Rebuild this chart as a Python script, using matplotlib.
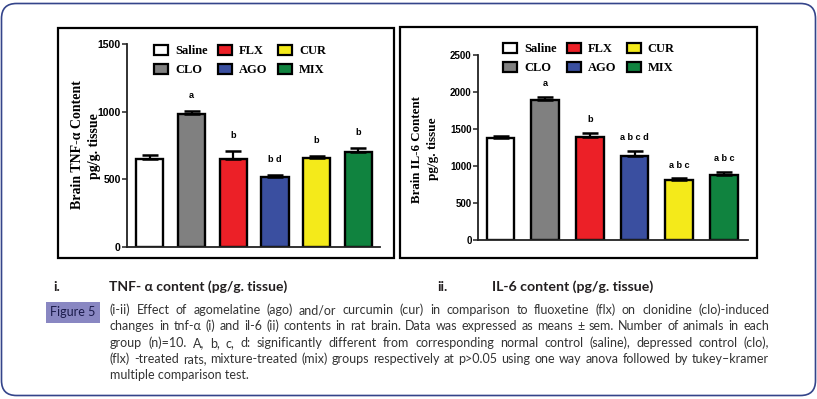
import matplotlib
matplotlib.use('Agg')
import matplotlib.pyplot as plt
from matplotlib.patches import Patch, Rectangle, FancyBboxPatch
import numpy as np

# ---------------- data ----------------
groups = ['Saline', 'CLO', 'FLX', 'AGO', 'CUR', 'MIX']
colors = ['#ffffff', '#808080', '#ec2027', '#3a4fa0', '#f4ea1a', '#10833f']

tnf_mean = [648, 983, 648, 518, 655, 705]
tnf_sem = [32, 22, 61, 14, 20, 26]
tnf_sig = ['', 'a', 'b', 'b d', 'b', 'b']
tnf_ticks = [0, 500, 1000, 1500]

il6_mean = [1374, 1892, 1388, 1135, 811, 883]
il6_sem = [27, 45, 63, 68, 22, 41]
il6_sig = ['', 'a', 'b', 'a b c d', 'a b c', 'a b c']
il6_ticks = [0, 500, 1000, 1500, 2000, 2500]

caption_lines = [
    "(i-ii) Effect of agomelatine (ago) and/or curcumin (cur) in comparison to fluoxetine (flx) on clonidine (clo)-induced",
    "changes in tnf-\u03b1 (i) and il-6 (ii) contents in rat brain. Data was expressed as means \u00b1 sem. Number of animals in each",
    "group (n)=10. A, b, c, d: significantly different from corresponding normal control (saline), depressed control (clo),",
    "(flx) -treated rats, mixture-treated (mix) groups respectively at p>0.05 using one way anova followed by tukey\u2013kramer",
    "multiple comparison test.",
]

W, H = 817, 399
fig = plt.figure(figsize=(W / 100, H / 100), dpi=100)
fig.patch.set_facecolor('white')

# overlay axes in pixel coordinates (origin top-left)
ov = fig.add_axes([0, 0, 1, 1], zorder=0)
ov.set_xlim(0, W)
ov.set_ylim(H, 0)
ov.axis('off')


def px_axes(x0, y0, x1, y1):
    return fig.add_axes([x0 / W, 1 - y1 / H, (x1 - x0) / W, (y1 - y0) / H], zorder=2)


SERIF = ['Liberation Serif', 'DejaVu Serif']
NARROW = ['Liberation Sans Narrow', 'Liberation Sans', 'DejaVu Sans']
SANS = ['Liberation Sans', 'DejaVu Sans']
CAL = ['Lato', 'DejaVu Sans']


def panel(box, means, sems, sig, ticks, width, xlim, leg_anchor, sig_off, tick_fs):
    ax = px_axes(*box)
    ax.set_facecolor('none')
    x = np.arange(len(groups))
    ax.bar(x, means, width=width, color=colors, edgecolor='black', linewidth=1.7, zorder=2)
    ax.errorbar(x, means, yerr=[np.zeros(len(x)), sems], fmt='none', ecolor='black',
                elinewidth=1.6, capsize=5.5, capthick=1.8, zorder=3)
    for xi, m, e, s in zip(x, means, sems, sig):
        if s:
            ax.annotate(s, (xi, m + e), xytext=(0, sig_off), textcoords='offset points',
                        ha='center', va='center', fontsize=6.6, fontweight='bold',
                        family=SANS, color='black')
    ax.set_xlim(*xlim)
    ax.set_ylim(0, ticks[-1])
    ax.set_xticks([])
    ax.set_yticks(ticks)
    ax.set_yticklabels([str(t) for t in ticks])
    for lbl in ax.get_yticklabels():
        lbl.set_fontweight('bold')
        lbl.set_family(NARROW)
        lbl.set_fontsize(tick_fs)
    ax.tick_params(axis='y', length=3.5, width=1.1, pad=1, color='#222222')
    for sp in ['top', 'right']:
        ax.spines[sp].set_visible(False)
    for sp in ['left', 'bottom']:
        ax.spines[sp].set_linewidth(1.3)
        ax.spines[sp].set_color('#222222')
    ax.spines['left'].set_bounds(0, ticks[-1])
    handles = [Patch(facecolor=c, edgecolor='black', linewidth=1.6, label=g)
               for g, c in zip(groups, colors)]
    ax.legend(handles=handles, ncol=3, loc='upper left', bbox_to_anchor=leg_anchor,
              bbox_transform=ov.transData, frameon=False, borderpad=0, borderaxespad=0,
              handlelength=1.15, handleheight=0.85, handletextpad=0.55,
              columnspacing=0.8, labelspacing=0.5,
              prop=dict(family=SERIF, weight='bold', size=9))
    return ax


# outer rounded border and panel frames
ov.add_patch(FancyBboxPatch((1.5, 3.5), 814, 392, boxstyle='round,pad=0,rounding_size=15',
                            ec='#34448a', fc='none', lw=1.2))
ov.add_patch(Rectangle((58, 27.5), 336, 230.5, fc='none', ec='black', lw=1.6))
ov.add_patch(Rectangle((400.5, 26.5), 356.5, 231.5, fc='none', ec='black', lw=1.6))

panel((127, 44, 380, 247), tnf_mean, tnf_sem, tnf_sig, tnf_ticks, 0.65, (-0.55, 5.52),
      (154, 45), 11, 7.6)
panel((478, 55, 748, 240), il6_mean, il6_sem, il6_sig, il6_ticks, 0.62, (-0.505, 5.54),
      (503, 43), 9.5, 7.0)

# y labels
ov.text(78, 145, 'Brain TNF-\u03b1 Content', rotation=90, ha='center', va='center',
        family=SERIF, weight='bold', fontsize=10)
ov.text(95, 146, 'pg/g. tissue', rotation=90, ha='center', va='center',
        family=SERIF, weight='bold', fontsize=10)
ov.text(417, 149.5, 'Brain IL-6 Content', rotation=90, ha='center', va='center',
        family=SERIF, weight='bold', fontsize=9.3)
ov.text(433, 148.5, 'pg/g. tissue', rotation=90, ha='center', va='center',
        family=SERIF, weight='bold', fontsize=9.5)

# panel sub-titles
tc = '#231f20'
ov.text(53, 287, 'i.', ha='left', va='center', family=CAL, weight='bold', fontsize=10, color=tc)
ov.text(109, 287, 'TNF- \u03b1 content (pg/g. tissue)', ha='left', va='center', family=CAL,
        weight='bold', fontsize=10, color=tc)
ov.text(437, 287, 'ii.', ha='left', va='center', family=CAL, weight='bold', fontsize=10, color=tc)
ov.text(492, 287, 'IL-6 content (pg/g. tissue)', ha='left', va='center', family=CAL,
        weight='bold', fontsize=10.2, color=tc)

# figure label
ov.add_patch(Rectangle((46, 302), 54, 21, fc='#8987c2', ec='none'))
ov.text(73, 312.5, 'Figure 5', ha='center', va='center', family=CAL, fontsize=9, color='#1b1b4b')

# justified caption
r = fig.canvas.get_renderer()
x0, x1 = 110, 769
base_fs = 8.0
kw0 = dict(ha='left', va='baseline', family=CAL, color='#333333')
ratios = []
for line in caption_lines[:-1]:
    t = ov.text(0, 0, line, fontsize=base_fs, **kw0)
    ratios.append((x1 - x0) / t.get_window_extent(renderer=r).width)
    t.remove()
cap_fs = base_fs * min(ratios) * 0.985

for i, line in enumerate(caption_lines):
    y = 310.5 + i * 16.2 + 3.8
    if i == len(caption_lines) - 1:
        ov.text(x0, y, line, fontsize=cap_fs, **kw0)
        continue
    words = line.split(' ')
    txts = [ov.text(0, y, w, fontsize=cap_fs, **kw0) for w in words]
    widths = [t.get_window_extent(renderer=r).width for t in txts]
    gap = (x1 - x0 - sum(widths)) / (len(words) - 1)
    xx = x0
    for t, w in zip(txts, widths):
        t.set_x(xx)
        xx += w + gap

fig.savefig('out.png', dpi=100, facecolor='white')
